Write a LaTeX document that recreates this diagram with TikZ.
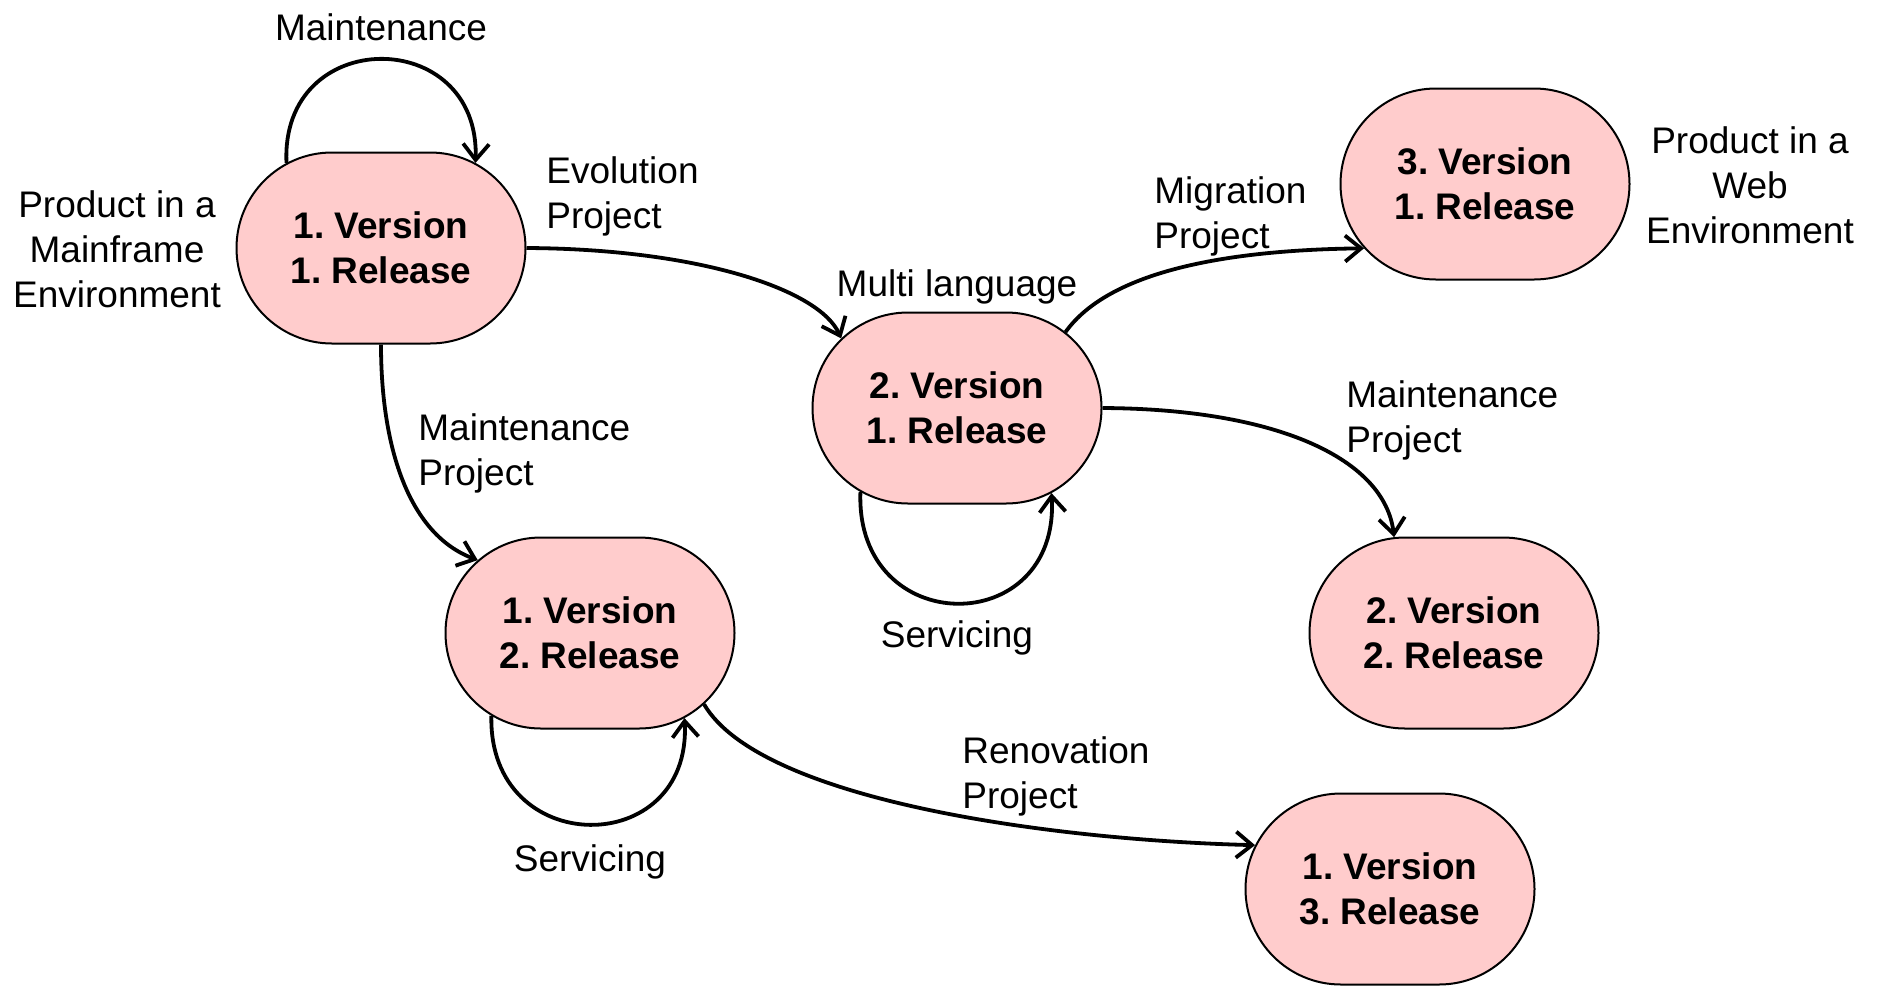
\documentclass[tikz,border=0pt]{standalone}
\usepackage{fontspec}
\setmainfont{Liberation Sans}
\usetikzlibrary{shapes.misc,arrows.meta}
\definecolor{nodepink}{HTML}{FFCCCC}
\frenchspacing
\tikzset{
  state/.style={rounded rectangle, draw=black, line width=1pt, fill=nodepink,
    minimum width=144.5pt, minimum height=95.5pt, inner sep=0pt, align=center,
    font=\fontsize{18.5}{22.7}\selectfont\bfseries},
  lbl/.style={align=center, inner sep=0pt, font=\fontsize{18.5}{22.5}\selectfont},
  lbll/.style={lbl, align=left, anchor=west},
  conn/.style={line width=1.9pt, -{Straight Barb[length=8pt,width=13pt,line width=1.9pt]}}
}
\begin{document}
\begin{tikzpicture}[x=0.5pt,y=-0.5pt]
\useasboundingbox (0,0) rectangle (1879,986);
% states
\node[state] (A) at (381,248) {1. Version\\1. Release};
\node[state] (B) at (957,408) {2. Version\\1. Release};
\node[state] (C) at (1485,184) {3. Version\\1. Release};
\node[state] (D) at (590,633) {1. Version\\2. Release};
\node[state] (E) at (1454,633) {2. Version\\2. Release};
\node[state] (F) at (1390,889) {1. Version\\3. Release};
% labels
\node[lbl] (lmaint) at (381,27) {Maintenance};
\node[lbl] (lmain) at (117,249) {Product in a\\Mainframe\\Environment};
\node[lbll] (levo) at (546,196) {Evolution\\Project};
\node[lbl] (lmulti) at (957,287) {Multi language};
\node[lbll] (lmig) at (1154,216) {Migration\\Project};
\node[lbl] (lweb) at (1750,185) {Product in a\\Web\\Environment};
\node[lbll] (lmp1) at (418,453) {Maintenance\\Project};
\node[lbll] (lmp2) at (1346,420) {Maintenance\\Project};
\node[lbl] (lserv1) at (957,638) {Servicing};
\node[lbl] (lserv2) at (590,862) {Servicing};
\node[lbll] (lren) at (962,776) {Renovation\\Project};
% connectors
\draw[conn] (A.138) .. controls (280,25) and (480,25) .. (A.42);
\draw[conn] (A.east) .. controls (700,249) and (820,290) .. (B.149);
\draw[conn] (B.35) .. controls (1110,270) and (1230,250) .. (C.208);
\draw[conn] (B.east) .. controls (1280,409) and (1385,460) .. (E.122);
\draw[conn] (A.south) .. controls (381,450) and (410,535) .. (D.147);
\draw[conn] (B.221) .. controls (855,640) and (1060,640) .. (B.318);
\draw[conn] (D.220) .. controls (488,860) and (692,860) .. (D.318);
\draw[conn] (D.328) .. controls (760,800) and (1050,840) .. (F.162);
\end{tikzpicture}
\end{document}
